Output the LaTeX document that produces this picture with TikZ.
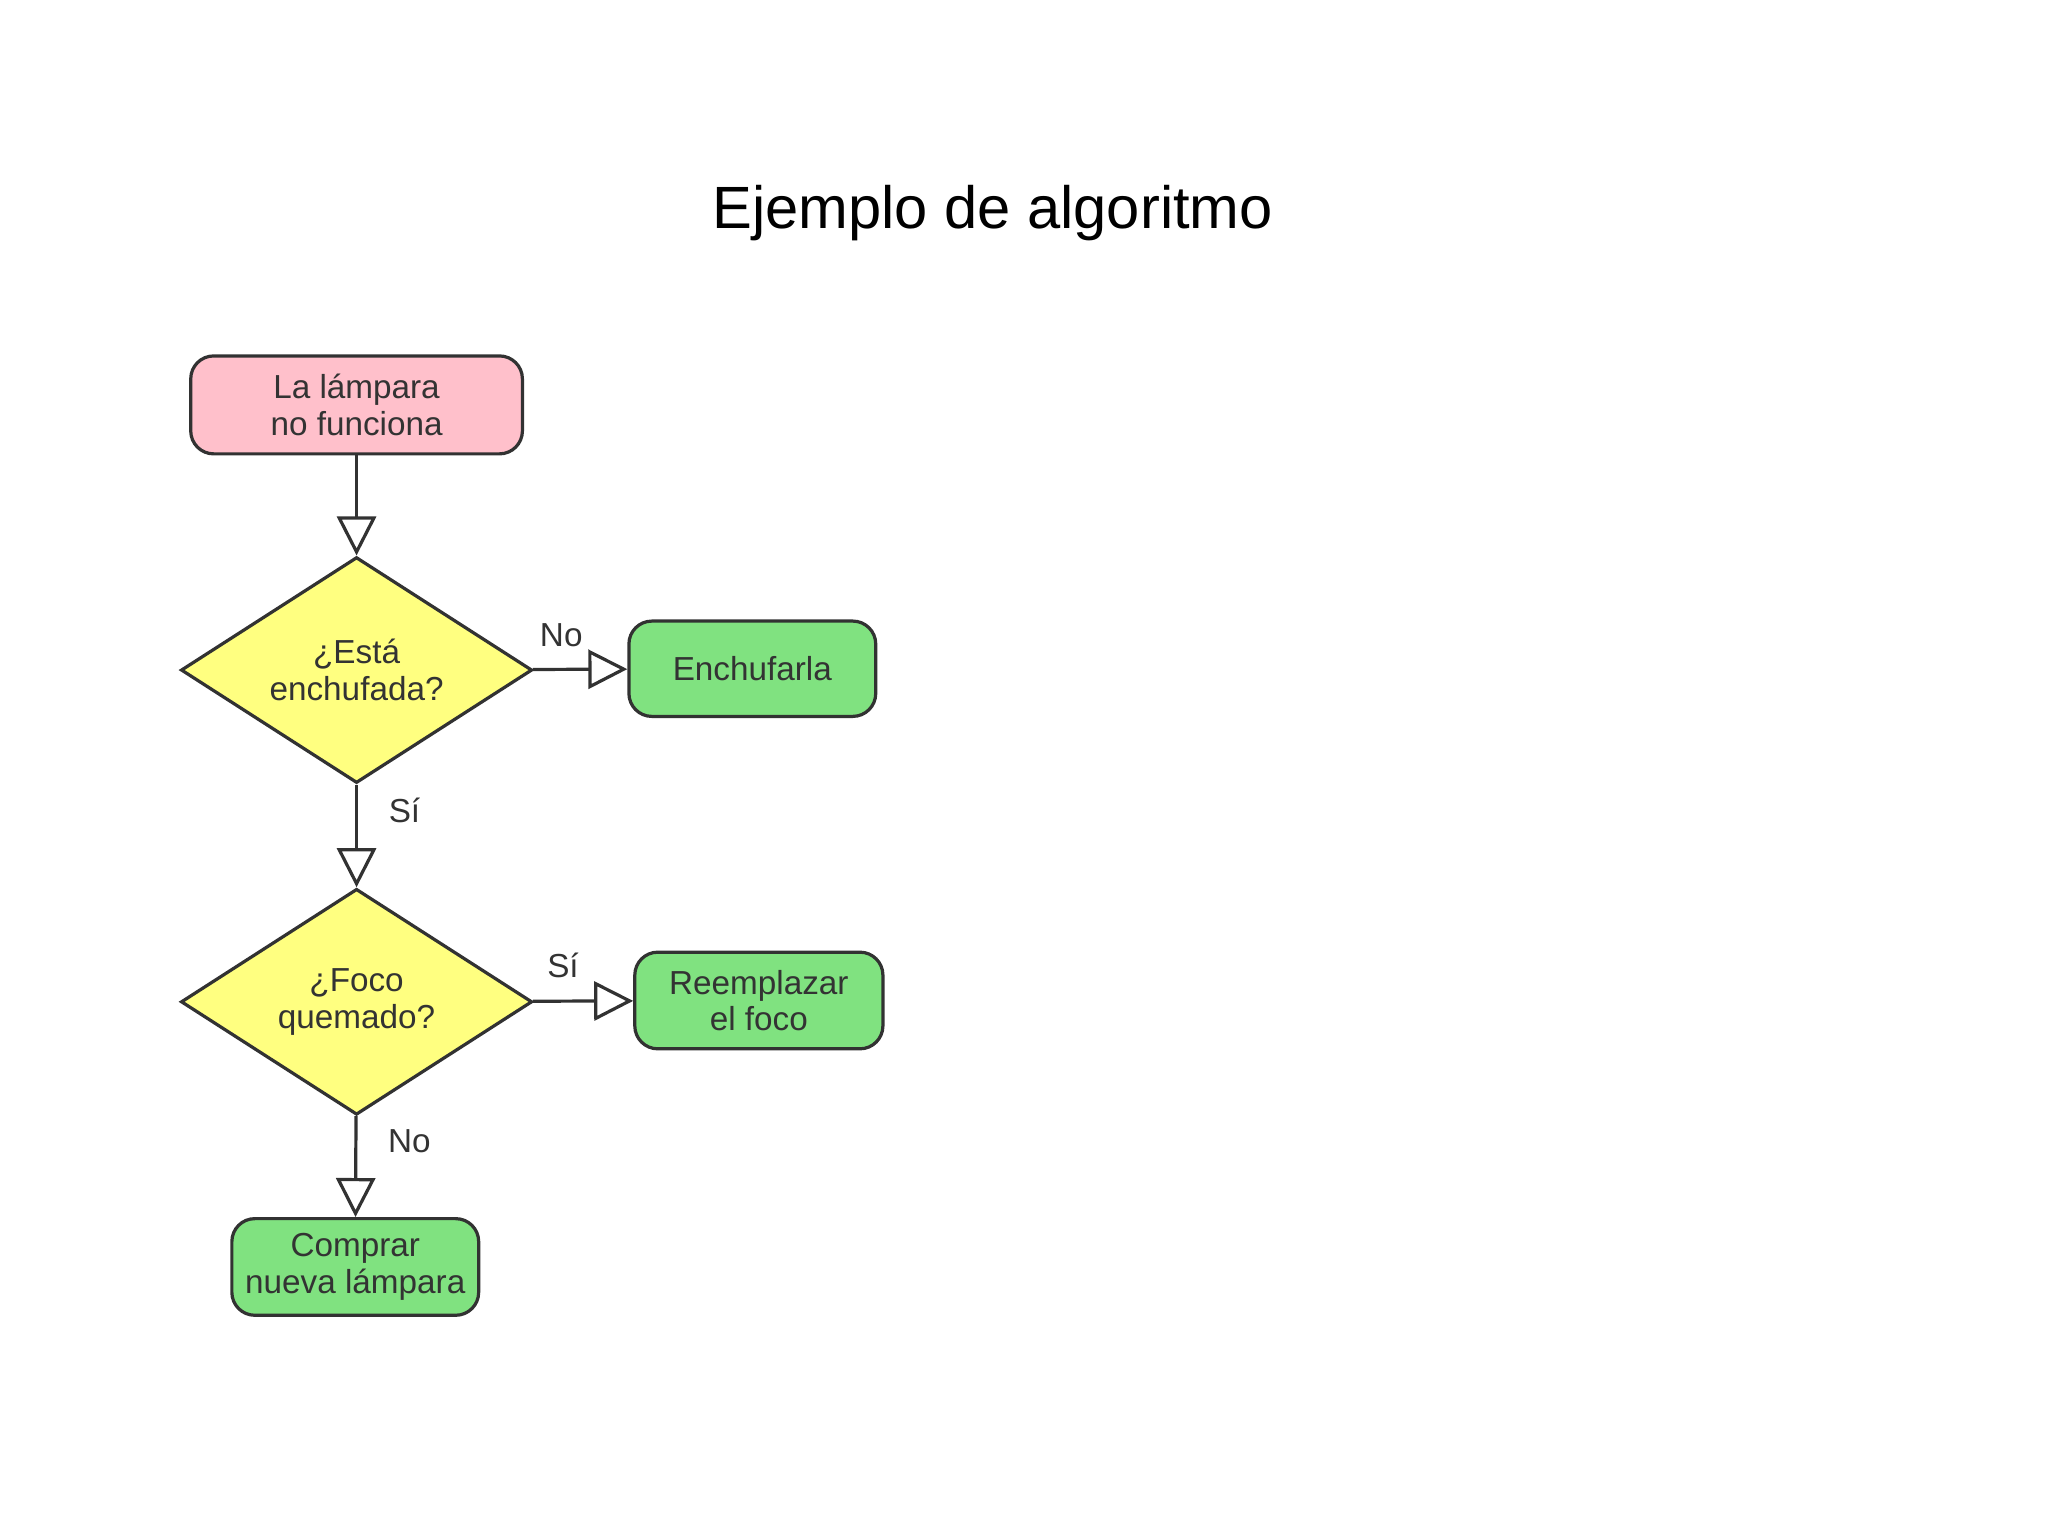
\documentclass[tikz,border=0pt]{standalone}
\usepackage{fontspec}
\setmainfont{Liberation Sans}
\usetikzlibrary{shapes.geometric,arrows.meta}
\definecolor{pinkf}{RGB}{255,192,203}
\definecolor{greenf}{RGB}{128,226,128}
\definecolor{yellowf}{RGB}{255,255,128}
\definecolor{edge}{RGB}{50,50,50}
\begin{document}
\begin{tikzpicture}[x=0.02cm,y=-0.02cm,
  box/.style={draw=edge,line width=1.4pt,rounded corners=10pt,font=\fontsize{14.5}{16}\selectfont,align=center,inner sep=0pt,text=black!80},
  dec/.style={diamond,draw=edge,line width=1.4pt,fill=yellowf,font=\fontsize{14.5}{16}\selectfont,align=center,inner sep=0pt,minimum width=5.38cm,minimum height=3.46cm,aspect=1.55,text=black!80},
  arr/.style={draw=edge,line width=1.4pt,-{Triangle[open,length=17pt,width=17pt,line width=1.4pt]}},
  lab/.style={font=\fontsize{14.5}{16}\selectfont,text=black!80}]
\useasboundingbox (0,0) rectangle (1568,1176);
\node[font=\fontsize{26}{30}\selectfont] (title) at (760,163) {Ejemplo de algoritmo};
\node[box,fill=pinkf,minimum width=5.08cm,minimum height=1.5cm] (start) at (273,310) {La lámpara\\no funciona};
\node[dec] (d1) at (273,513) {¿Está\\enchufada?};
\node[box,fill=greenf,minimum width=3.78cm,minimum height=1.46cm] (e1) at (576,512) {Enchufarla};
\node[dec] (d2) at (273,767) {¿Foco\\quemado?};
\node[box,fill=greenf,minimum width=3.8cm,minimum height=1.48cm] (e2) at (581,766) {Reemplazar\\el foco};
\node[box,fill=greenf,minimum width=3.78cm,minimum height=1.48cm] (e3) at (272,970) {Comprar\\nueva lámpara};
\draw[arr] (start) -- (d1);
\draw[arr] (d1) -- node[lab,above=6pt,pos=0.3]{No} (e1);
\draw[arr] (d1) -- node[lab,right=10pt,pos=0.25]{Sí} (d2);
\draw[arr] (d2) -- node[lab,above=6pt,pos=0.3]{Sí} (e2);
\draw[arr] (d2) -- node[lab,right=10pt,pos=0.25]{No} (e3);
\end{tikzpicture}
\end{document}
